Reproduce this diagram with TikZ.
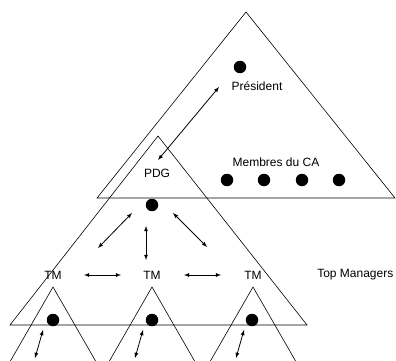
\documentclass[tikz,border=0pt]{standalone}
\usepackage{fontspec}
\setmainfont{Liberation Sans}
\usetikzlibrary{%
  arrows,%
  calc%
}
\tikzset{>=latex}
\tikzset{dot/.style={circle,fill=black,inner sep=0pt,minimum size=12.5pt},
  lbl/.style={inner sep=1pt,font=\fontsize{12}{14}\selectfont},
  link/.style={<->,line width=0.8pt}}

\begin{document}
\begin{tikzpicture}[x=1pt,y=-1pt,line width=0.6pt]
      \useasboundingbox (0,0) rectangle (396,361);
      \clip (0,0) rectangle (396,361);
      \draw (246,12) -- (395,198) -- (97,198) -- cycle;
      \draw (158,136) -- (307,325) -- (10,325) -- cycle;
      \foreach \x in {53,152,253}
        \draw (\x-65,400) -- (\x,287) -- (\x+65,400);

      \node[dot] (pres) at (240,67) {};
      \node[lbl] (prestxt) at (257,86) {Président};
      \node[lbl] (pdg) at (157,173) {PDG};
      \node[lbl] (ca) at (276,162) {Membres du CA};
      \foreach \x [count=\i] in {227,264,302,339}
        \node[dot] (ca\i) at (\x,180) {};
      \draw[link] (219,87) coordinate (p1) -- (158,160) coordinate (p2);

      \node[dot] (top) at (152,205) {};
      \node[lbl] (tm1) at (53,275) {TM};
      \node[lbl] (tm2) at (152,275) {TM};
      \node[lbl] (tm3) at (253,275) {TM};
      \node[lbl,anchor=west] (topman) at (316,275) {Top Managers};
      \coordinate (l1) at (132,213); \coordinate (l2) at (98,248);
      \coordinate (v1) at (146,226); \coordinate (v2) at (146,260);
      \coordinate (r1) at (173,213); \coordinate (r2) at (207,247);
      \draw[link] (l1) -- (l2);
      \draw[link] (v1) -- (v2);
      \draw[link] (r1) -- (r2);
      \draw[link,shorten <=21pt,shorten >=21pt] (tm1.east) -- (tm2.west);
      \draw[link,shorten <=22pt,shorten >=22pt] (tm2.east) -- (tm3.west);

      \foreach \x/\t [count=\i] in {53/43,152/143,252/244}{
        \node[dot] (d\i) at (\x,320) {};
        \coordinate (e\i) at (\t,330);
        \coordinate (f\i) at (\t-8,358);
        \draw[link] (e\i) -- (f\i);
      }
    \end{tikzpicture}
\end{document}
